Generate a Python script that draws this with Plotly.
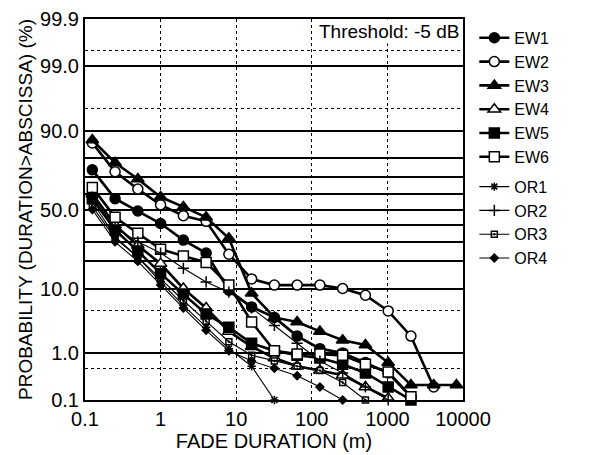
import plotly.graph_objects as go
from statistics import NormalDist

# ---------------- data ----------------
durations = [0.125, 0.25, 0.5, 1, 2, 4, 8, 16, 32, 64, 128, 256, 512, 1024, 2048, 4096, 8192]

ew1 = [74, 57, 49, 41, 31, 24, 9.5, 5.7, 4.0, 2.0, 1.2, 1.0, 0.65, 0.4, 0.12]
ew2 = [86, 73, 63, 53, 46, 42.4, 23.4, 13, 11, 11, 11, 10, 8.2, 5, 2.0, 0.2]
ew3 = [87, 77.6, 69, 58, 51.7, 45, 32, 8.7, 4.0, 3.4, 2.4, 1.7, 1.4, 0.65, 0.22, 0.22, 0.22]
ew4 = [60, 40, 28, 19, 10, 5.5, 2.4, 1.3, 0.8, 0.55, 0.45, 0.36, 0.2, 0.11]
ew5 = [57, 37, 25, 15, 8.5, 4.5, 2.8, 1.5, 1.1, 0.9, 0.8, 0.6, 0.4, 0.2, 0.1]
ew6 = [64, 45, 35, 26, 22.5, 19.5, 11, 3.4, 1.1, 0.95, 0.95, 0.9, 0.6, 0.42, 0.12]
or1 = [55, 33, 22, 12, 6, 2.8, 1.2, 0.55, 0.1]
or2 = [58, 38, 30, 24, 17, 12, 9, 5.5, 3.0, 1.5, 0.7, 0.4, 0.2, 0.1]
or3 = [52, 32, 22, 13, 7, 3.5, 1.6, 0.9, 0.7, 0.55, 0.45, 0.25, 0.1]
or4 = [50, 30, 20, 11, 5.5, 2.5, 1.1, 0.7, 0.5, 0.35, 0.2, 0.1]

series_names = ["EW1", "EW2", "EW3", "EW4", "EW5", "EW6", "OR1", "OR2", "OR3", "OR4"]
series_values = [ew1, ew2, ew3, ew4, ew5, ew6, or1, or2, or3, or4]

y_solid_grid = [1, 10, 20, 30, 40, 50, 60, 70, 80, 90, 99]
y_dotted_grid = [0.5, 5, 95, 99.5]
y_tick_labels = {0.1: "0.1", 1: "1.0", 10: "10.0", 50: "50.0", 90: "90.0", 99: "99.0", 99.9: "99.9"}
x_ticks = [0.1, 1, 10, 100, 1000, 10000]
x_tick_text = ["0.1", "1", "10", "100", "1000", "10000"]

# ---------------- helpers ----------------
nd = NormalDist()
def probit(p):
    return nd.inv_cdf(p / 100.0)

styles = {
    "EW1": dict(symbol="circle", color="black", size=10, width=2.6),
    "EW2": dict(symbol="circle", color="white", size=10, width=2.6),
    "EW3": dict(symbol="triangle-up", color="black", size=11, width=2.6),
    "EW4": dict(symbol="triangle-up", color="white", size=11, width=2.6),
    "EW5": dict(symbol="square", color="black", size=10, width=2.6),
    "EW6": dict(symbol="square", color="white", size=10, width=2.6),
    "OR1": dict(symbol="asterisk", color="black", size=7, width=1.1),
    "OR2": dict(symbol="cross-thin", color="black", size=8, width=1.1),
    "OR3": dict(symbol="square-open-dot", color="black", size=6, width=1.1),
    "OR4": dict(symbol="diamond", color="black", size=6, width=1.1),
}

fig = go.Figure()
for name, vals in zip(series_names, series_values):
    st = styles[name]
    fig.add_trace(go.Scatter(
        x=durations[:len(vals)],
        y=[probit(v) for v in vals],
        mode="lines+markers",
        name=name,
        legendgroup=name[:2],
        line=dict(color="black", width=st["width"]),
        marker=dict(symbol=st["symbol"], size=st["size"], color=st["color"],
                    line=dict(color="black", width=1.5)),
        cliponaxis=False,
    ))

all_y = sorted(set(y_solid_grid) | {0.1, 99.9})
yvals = [probit(v) for v in all_y]
ytext = [y_tick_labels.get(v, "") for v in all_y]

font = "Liberation Sans, Arial, Helvetica, sans-serif"

# page has an 8px body margin, so the figure is 8px smaller and shifted
fig.update_layout(
    width=593, height=447,
    margin=dict(l=77, r=138, t=11, b=55),
    paper_bgcolor="white", plot_bgcolor="white",
    font=dict(family=font, color="black", size=18),
    showlegend=True,
    legend=dict(x=1.03, y=0.995, xanchor="left", yanchor="top",
                font=dict(size=16), tracegroupgap=6, traceorder="grouped",
                bgcolor="rgba(0,0,0,0)", borderwidth=0),
    xaxis=dict(
        type="log", range=[-1, 4], automargin=False,
        tickvals=x_ticks, ticktext=x_tick_text,
        tickfont=dict(size=20),
        showgrid=True, gridcolor="black", gridwidth=1, griddash="dot",
        showline=True, linecolor="black", linewidth=2, mirror=True,
        ticks="", zeroline=False,
        title=dict(text="FADE DURATION (m)", font=dict(size=20), standoff=4),
    ),
    yaxis=dict(
        range=[probit(0.1), probit(99.9)], automargin=False,
        tickvals=yvals, ticktext=ytext, ticklabeloverflow="allow",
        tickfont=dict(size=20),
        showgrid=True, gridcolor="black", gridwidth=1.5,
        minor=dict(tickvals=[probit(v) for v in y_dotted_grid], showgrid=True,
                   gridcolor="black", gridwidth=1.2, griddash="dot", ticks=""),
        showline=True, linecolor="black", linewidth=2, mirror=True,
        ticks="", zeroline=False,
        title=dict(text="PROBABILITY (DURATION>ABSCISSA) (%)", font=dict(size=19), standoff=2),
    ),
)

fig.add_annotation(
    text="Threshold: -5 dB", xref="paper", yref="paper",
    x=0.995, y=1.0, xanchor="right", yanchor="top",
    showarrow=False, font=dict(size=19), bgcolor="white",
)

fig.write_html("out.html")
